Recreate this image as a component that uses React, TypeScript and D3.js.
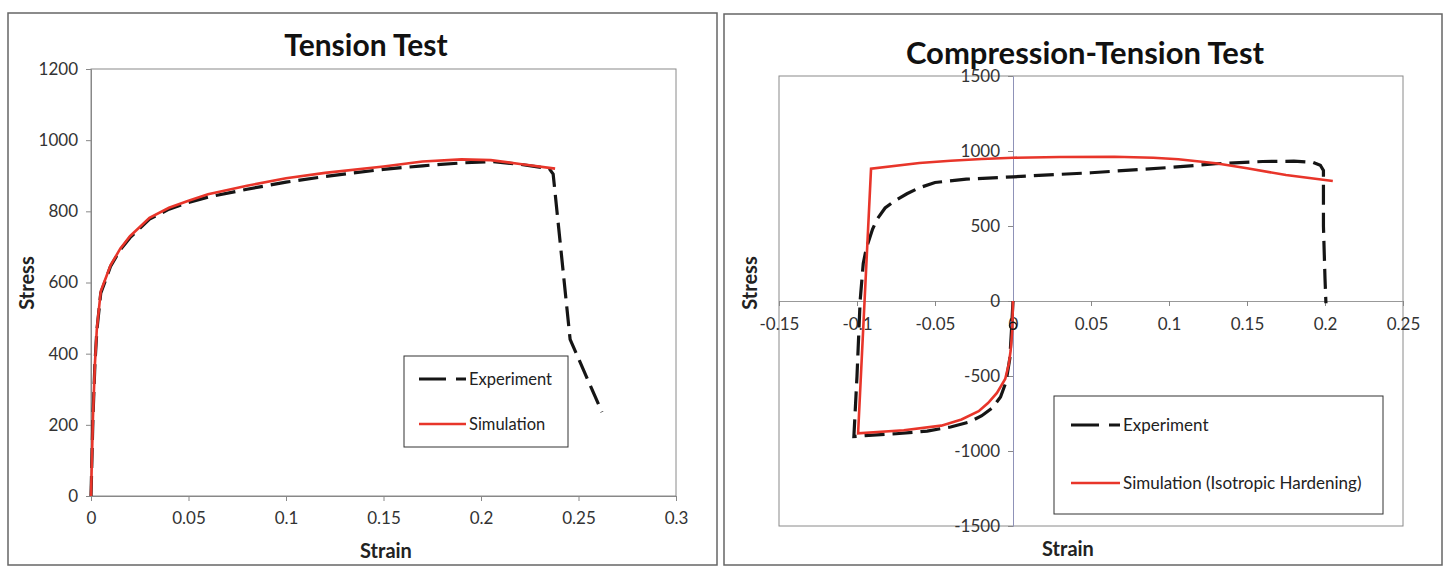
import React, { useEffect, useRef } from 'react';
import * as d3 from 'd3';

type Pt = [number, number];

// Tension test (strain, stress)
const tensionExperiment: Pt[] = [
  [0, 0], [0.001, 220], [0.002, 370], [0.003, 465], [0.005, 570], [0.01, 645],
  [0.015, 692], [0.02, 726], [0.03, 778], [0.04, 806], [0.05, 825], [0.06, 840],
  [0.08, 862], [0.1, 882], [0.12, 898], [0.15, 918], [0.17, 928], [0.19, 936],
  [0.205, 940], [0.22, 932], [0.235, 920], [0.237, 905], [0.2457, 440], [0.262, 236],
];
const tensionSimulation: Pt[] = [
  [0, 0], [0.001, 220], [0.002, 370], [0.003, 470], [0.005, 575], [0.01, 648],
  [0.015, 695], [0.02, 730], [0.03, 782], [0.04, 810], [0.05, 830], [0.06, 848],
  [0.08, 872], [0.1, 893], [0.12, 908], [0.15, 926], [0.17, 940], [0.19, 946],
  [0.205, 944], [0.22, 933], [0.238, 920],
];

// Compression-tension test (strain, stress)
const ctExperiment: Pt[] = [
  [0, 0], [-0.001, -200], [-0.002, -380], [-0.0045, -540], [-0.008, -640],
  [-0.013, -710], [-0.02, -765], [-0.028, -807], [-0.04, -840], [-0.055, -867],
  [-0.075, -885], [-0.095, -898], [-0.102, -904], [-0.1, -500], [-0.098, 0],
  [-0.096, 250], [-0.094, 353], [-0.09, 480], [-0.087, 547], [-0.082, 620],
  [-0.076, 667], [-0.068, 715], [-0.06, 755], [-0.05, 790], [-0.03, 812],
  [0, 828], [0.05, 855], [0.1, 890], [0.13, 915], [0.16, 930], [0.18, 932],
  [0.192, 925], [0.197, 905], [0.199, 870], [0.199, 500], [0.2, 150], [0.2006, -15],
];
const ctSimulation: Pt[] = [
  [0, 0], [-0.0005, -200], [-0.0015, -330], [-0.0027, -420], [-0.005, -520],
  [-0.0103, -613], [-0.016, -680], [-0.022, -735], [-0.033, -790], [-0.046, -831],
  [-0.07, -862], [-0.0993, -882], [-0.091, 882], [-0.06, 920], [-0.04, 935],
  [-0.02, 947], [0, 955], [0.03, 960], [0.065, 962], [0.09, 955], [0.106, 945],
  [0.13, 918], [0.15, 885], [0.175, 840], [0.205, 800],
];
const ctMarker: Pt = [0, -165];

const tensionXTicks = [0, 0.05, 0.1, 0.15, 0.2, 0.25, 0.3];
const tensionYTicks = [0, 200, 400, 600, 800, 1000, 1200];
const ctXTicks = [-0.15, -0.1, -0.05, 0, 0.05, 0.1, 0.15, 0.2, 0.25];
const ctYTicks = [-1500, -1000, -500, 0, 500, 1000, 1500];

const FONT = 'Lato, "Open Sans", sans-serif';
const RED = '#e8352a';
const BLACK = '#151515';

const fmt = (v: number) => String(v);

const App: React.FC = () => {
  const svgRef = useRef<SVGSVGElement>(null);

  useEffect(() => {
    if (!svgRef.current) return;
    const svg = d3.select(svgRef.current);
    svg.selectAll('*').remove();
    svg.style('font-family', FONT);

    const line = (x: d3.ScaleLinear<number, number>, y: d3.ScaleLinear<number, number>) =>
      d3.line<Pt>().x(d => x(d[0])).y(d => y(d[1]));

    // ---------- Tension test ----------
    const g1 = svg.append('g');
    g1.append('rect').attr('x', 8).attr('y', 13).attr('width', 709).attr('height', 552)
      .attr('fill', 'none').attr('stroke', '#666').attr('stroke-width', 1.5);

    const x1 = d3.scaleLinear().domain([0, 0.3]).range([91, 676]);
    const y1 = d3.scaleLinear().domain([0, 1200]).range([496, 69]);

    g1.append('rect').attr('x', x1(0)).attr('y', y1(1200))
      .attr('width', x1(0.3) - x1(0)).attr('height', y1(0) - y1(1200))
      .attr('fill', 'none').attr('stroke', '#8a8a8a').attr('stroke-width', 1);

    const xAx1 = g1.append('g').attr('transform', `translate(0,${y1(0)})`)
      .call(d3.axisBottom(x1).tickValues(tensionXTicks).tickSize(5).tickFormat(d => fmt(+d)));
    const yAx1 = g1.append('g').attr('transform', `translate(${x1(0)},0)`)
      .call(d3.axisLeft(y1).tickValues(tensionYTicks).tickSize(5).tickFormat(d => fmt(+d)));
    [xAx1, yAx1].forEach(a => {
      a.select('.domain').attr('stroke', '#888');
      a.selectAll('.tick line').attr('stroke', '#888');
      a.selectAll('.tick text').attr('fill', '#333').style('font-size', '17px').style('font-family', FONT);
    });
    xAx1.selectAll('.tick text').attr('dy', '1.2em');
    yAx1.selectAll('.tick text').attr('x', -13);

    g1.append('path').datum(tensionExperiment).attr('d', line(x1, y1))
      .attr('fill', 'none').attr('stroke', BLACK).attr('stroke-width', 3.2)
      .attr('stroke-dasharray', '20 8');
    g1.append('path').datum(tensionSimulation).attr('d', line(x1, y1))
      .attr('fill', 'none').attr('stroke', RED).attr('stroke-width', 2.6);

    g1.append('text').attr('x', 366).attr('y', 56).attr('text-anchor', 'middle')
      .style('font-size', '30px').style('font-weight', 700).attr('fill', '#111').text('Tension Test');
    g1.append('text').attr('x', 386).attr('y', 558).attr('text-anchor', 'middle')
      .style('font-size', '20px').style('font-weight', 700).attr('fill', '#222').text('Strain');
    g1.append('text').attr('transform', 'translate(34,283) rotate(-90)').attr('text-anchor', 'middle')
      .style('font-size', '20px').style('font-weight', 700).attr('fill', '#222').text('Stress');

    const lg1 = g1.append('g');
    lg1.append('rect').attr('x', 404).attr('y', 356).attr('width', 164).attr('height', 91)
      .attr('fill', '#fff').attr('stroke', '#333').attr('stroke-width', 1);
    lg1.append('line').attr('x1', 419).attr('x2', 466).attr('y1', 379).attr('y2', 379)
      .attr('stroke', BLACK).attr('stroke-width', 3.2).attr('stroke-dasharray', '27 10');
    lg1.append('line').attr('x1', 419).attr('x2', 466).attr('y1', 424).attr('y2', 424)
      .attr('stroke', RED).attr('stroke-width', 2.6);
    lg1.append('text').attr('x', 469).attr('y', 385).style('font-size', '16.5px').attr('fill', '#222').text('Experiment');
    lg1.append('text').attr('x', 469).attr('y', 430).style('font-size', '16.5px').attr('fill', '#222').text('Simulation');

    // ---------- Compression-tension test ----------
    const g2 = svg.append('g');
    g2.append('rect').attr('x', 724).attr('y', 14).attr('width', 718).attr('height', 551)
      .attr('fill', 'none').attr('stroke', '#666').attr('stroke-width', 1.5);

    const x2 = d3.scaleLinear().domain([-0.15, 0.25]).range([779, 1403]);
    const y2 = d3.scaleLinear().domain([-1500, 1500]).range([526, 76]);

    g2.append('rect').attr('x', x2(-0.15)).attr('y', y2(1500))
      .attr('width', x2(0.25) - x2(-0.15)).attr('height', y2(-1500) - y2(1500))
      .attr('fill', 'none').attr('stroke', '#8a8a8a').attr('stroke-width', 1);

    const xAx2 = g2.append('g').attr('transform', `translate(0,${y2(0)})`)
      .call(d3.axisBottom(x2).tickValues(ctXTicks).tickSize(5).tickFormat(d => fmt(+d)));
    const yAx2 = g2.append('g').attr('transform', `translate(${x2(0)},0)`)
      .call(d3.axisLeft(y2).tickValues(ctYTicks).tickSize(5).tickFormat(d => fmt(+d)));
    [xAx2, yAx2].forEach(a => {
      a.selectAll('.tick line').attr('stroke', '#888');
      a.selectAll('.tick text').attr('fill', '#333').style('font-size', '17px').style('font-family', FONT);
    });
    xAx2.select('.domain').attr('stroke', '#999');
    yAx2.select('.domain').attr('stroke', '#8f92b8');
    xAx2.selectAll('.tick text').attr('dy', '1.25em');
    yAx2.selectAll('.tick text').attr('x', -13);

    g2.append('path').datum(ctExperiment).attr('d', line(x2, y2))
      .attr('fill', 'none').attr('stroke', BLACK).attr('stroke-width', 3.2)
      .attr('stroke-dasharray', '20 8');
    g2.append('path').datum(ctSimulation).attr('d', line(x2, y2))
      .attr('fill', 'none').attr('stroke', RED).attr('stroke-width', 2.6);
    g2.append('circle').attr('cx', x2(ctMarker[0])).attr('cy', y2(ctMarker[1])).attr('r', 3.5)
      .attr('fill', 'none').attr('stroke', BLACK).attr('stroke-width', 1.3);

    g2.append('text').attr('x', 1085).attr('y', 64).attr('text-anchor', 'middle')
      .style('font-size', '31px').style('font-weight', 700).attr('fill', '#111').text('Compression-Tension Test');
    g2.append('text').attr('x', 1068).attr('y', 556).attr('text-anchor', 'middle')
      .style('font-size', '20px').style('font-weight', 700).attr('fill', '#222').text('Strain');
    g2.append('text').attr('transform', 'translate(757,283) rotate(-90)').attr('text-anchor', 'middle')
      .style('font-size', '20px').style('font-weight', 700).attr('fill', '#222').text('Stress');

    const lg2 = g2.append('g');
    lg2.append('rect').attr('x', 1054).attr('y', 396).attr('width', 329).attr('height', 118)
      .attr('fill', '#fff').attr('stroke', '#333').attr('stroke-width', 1);
    lg2.append('line').attr('x1', 1071).attr('x2', 1120).attr('y1', 425).attr('y2', 425)
      .attr('stroke', BLACK).attr('stroke-width', 3.2).attr('stroke-dasharray', '28 10');
    lg2.append('line').attr('x1', 1071).attr('x2', 1120).attr('y1', 483).attr('y2', 483)
      .attr('stroke', RED).attr('stroke-width', 2.6);
    lg2.append('text').attr('x', 1123).attr('y', 431).style('font-size', '17px').attr('fill', '#222').text('Experiment');
    lg2.append('text').attr('x', 1123).attr('y', 489).style('font-size', '17px').attr('fill', '#222')
      .text('Simulation (Isotropic Hardening)');
  }, []);

  return (
    <svg
      ref={svgRef}
      width={1447}
      height={569}
      style={{ position: 'absolute', left: 0, top: 0, background: '#fff', display: 'block' }}
    />
  );
};

export default App;
